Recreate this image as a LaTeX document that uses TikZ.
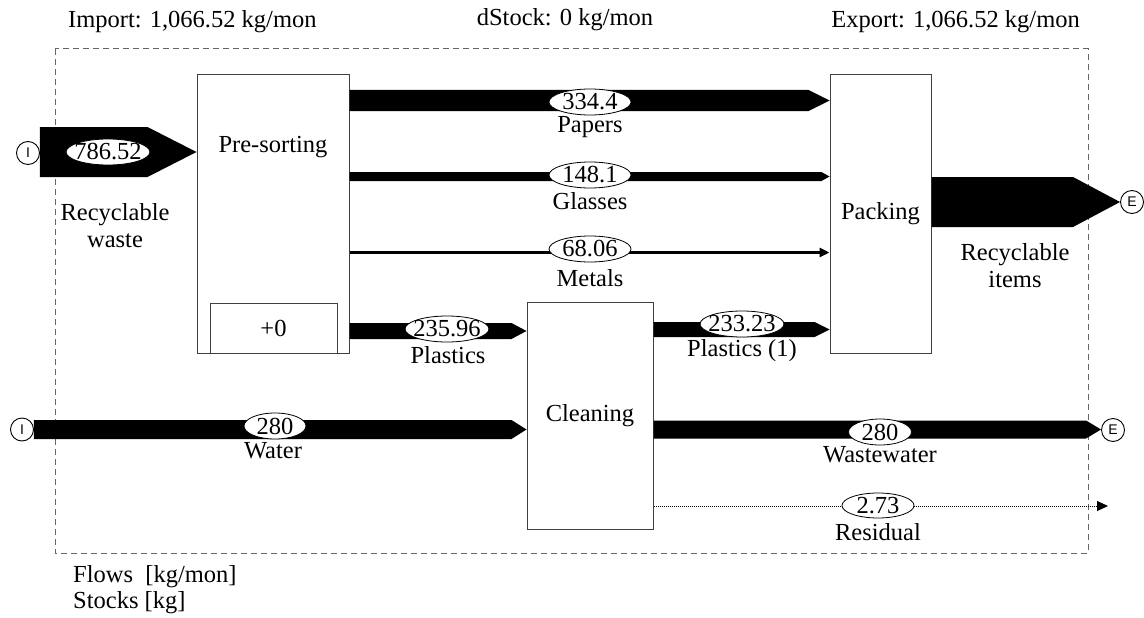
\documentclass[tikz,border=0pt]{standalone}
\usepackage{fontspec}
\setmainfont{Liberation Serif}
\setsansfont{Liberation Sans}
\usetikzlibrary{calc,shapes.geometric,arrows.meta}

% filled flow band: start, end, half thickness, head length
\newcommand\fatflow[4]{%
  \fill let \p1=(#1), \p2=(#2) in
    (\x1,\y1-#3) -- (\x2-#4,\y1-#3) -- (\x2,\y1) -- (\x2-#4,\y1+#3) -- (\x1,\y1+#3) -- cycle;}

\tikzset{
  proc/.style={draw=black!75, line width=1pt, fill=white, inner sep=0pt},
  val/.style={ellipse, draw, line width=0.8pt, fill=white, inner xsep=-4pt, inner ysep=-2pt,
              minimum width=82pt, minimum height=26pt},
  term/.style={circle, draw, line width=0.9pt, fill=white, minimum size=23pt, inner sep=0pt,
               font=\sffamily\fontsize{14}{14}\selectfont},
  lbl/.style={inner sep=0pt, align=center},
  boundary/.style={draw=black!60, line width=1pt, dash pattern=on 6pt off 4pt},
}

\begin{document}
\begin{tikzpicture}[x=1pt, y=-1pt, font=\fontsize{24.5}{27}\selectfont]
\useasboundingbox (0,0) rectangle (1144,618);

% system boundary
\draw[boundary] (55,49) rectangle (1088,553);

% header
\node[lbl, anchor=west] (imp) at (68,22) {Import: 1,066.52 kg/mon};
\node[lbl] (dst) at (565,20) {dStock: 0 kg/mon};
\node[lbl, anchor=east] (exp) at (1080,22) {Export: 1,066.52 kg/mon};

% processes
\node[proc, minimum width=152pt, minimum height=278pt] (pre) at (273,214) {};
\node[lbl] (pretxt) at (273,147) {Pre-sorting};
\node[proc, minimum width=127pt, minimum height=50pt] (stock) at (273.5,328) {+0};
\node[proc, minimum width=101pt, minimum height=278pt] (pack) at (880.5,214) {Packing};
\node[proc, minimum width=126pt, minimum height=227pt] (clean) at (590,415.5) {Cleaning};

% import / export terminals
\node[term] (iw) at (28,153) {I};
\node[term] (iwat) at (22,429.5) {I};
\node[term] (eitem) at (1132,202) {E};
\node[term] (ewat) at (1113,430) {E};
\coordinate (resEnd) at (1108,506);

% flow levels
\coordinate (yWaste) at (0,152);
\coordinate (yPap) at (0,100.5);
\coordinate (yGla) at (0,176.5);
\coordinate (yMet) at (0,252.5);
\coordinate (yPla) at (0,331);
\coordinate (yPla1) at (0,329.5);
\coordinate (yItem) at (0,202);
\coordinate (yWat) at (0,429.5);
\coordinate (yRes) at (0,506);

% flows
\fatflow{iw.east |- yWaste}{pre.west |- yWaste}{25pt}{49pt}
\fatflow{pre.east |- yPap}{pack.west |- yPap}{10.5pt}{21pt}
\fatflow{pre.east |- yGla}{pack.west |- yGla}{4.5pt}{8pt}
\draw[line width=3.5pt, -{Triangle[length=10pt,width=9pt]}] (pre.east |- yMet) -- (pack.west |- yMet);
\fatflow{pre.east |- yPla}{clean.west |- yPla}{8pt}{15pt}
\fatflow{clean.east |- yPla1}{pack.west |- yPla1}{7.5pt}{15pt}
\fatflow{pack.east |- yItem}{eitem.west}{25pt}{47pt}
\fatflow{iwat.east |- yWat}{clean.west |- yWat}{9.5pt}{15pt}
\fatflow{clean.east |- yWat}{ewat.west}{9pt}{15pt}
\draw[line width=1pt, dash pattern=on 1pt off 1pt, -{Triangle[length=11pt,width=10pt]}] (clean.east |- yRes) -- (resEnd);

% flow values
\node[val] (v1) at (108,152) {786.52};
\node[val] (v2) at (590,102) {334.4};
\node[val] (v3) at (590,175) {148.1};
\node[val] (v4) at (590,249) {68.06};
\node[val] (v5) at (447,329) {235.96};
\node[val] (v6) at (742,324) {233.23};
\node[val, minimum width=62pt] (v7) at (275,426) {280};
\node[val, minimum width=63pt] (v8) at (880,432) {280};
\node[val, minimum width=72pt, minimum height=25pt] (v9) at (878,505.5) {2.73};

% flow names
\node[lbl] at (115,226) {Recyclable\\waste};
\node[lbl] at (590,127) {Papers};
\node[lbl] at (590,201) {Glasses};
\node[lbl] at (590,278) {Metals};
\node[lbl] at (448,355) {Plastics};
\node[lbl] at (742,351) {Plastics (1)};
\node[lbl] at (1015,266) {Recyclable\\items};
\node[lbl] at (273,451) {Water};
\node[lbl] at (880,455) {Wastewater};
\node[lbl] at (878,532) {Residual};

% units
\node[lbl, anchor=west] (lf) at (73,577) {Flows\ \ [kg/mon]};
\node[lbl, anchor=west] (ls) at (73,603) {Stocks [kg]};
\end{tikzpicture}
\end{document}
